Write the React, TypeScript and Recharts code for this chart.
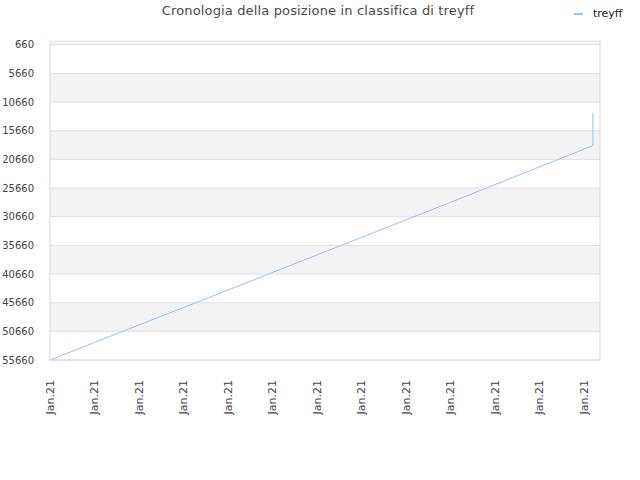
import React from 'react'
import { LineChart, Line, XAxis, YAxis, CartesianGrid, ReferenceLine } from 'recharts'

// day index on the x axis (all fall in Jan.21) and rank
const days = [0, 3, 6, 9, 12.2, 12.2, 12.22]
const ranks = [55660, 46500, 37330, 28150, 18250, 12600, 12450]
const yTicks = [660, 5660, 10660, 15660, 20660, 25660, 30660, 35660, 40660, 45660, 50660, 55660]
const xTicks = [0, 1, 2, 3, 4, 5, 6, 7, 8, 9, 10, 11, 12]
const X_MAX = 12.36
const tickLabel = 'Jan.21'

const LINE_COLOR = '#92c5f2'
const FONT = '"DejaVu Sans", sans-serif'

const data = days.map((d, i) => ({ day: d, rank: ranks[i] }))

const RotatedTick = (props: any) => {
  const { x, y } = props
  return (
    <text
      x={x + 4}
      y={y + 12}
      transform={`rotate(-90, ${x + 4}, ${y + 12})`}
      textAnchor="end"
      fontSize={11}
      fill="#444"
      fontFamily={FONT}
    >
      {tickLabel}
    </text>
  )
}

export default function App() {
  return (
    <div style={{ position: 'absolute', left: 0, top: 0, width: 640, height: 480, background: '#fff', fontFamily: FONT }}>
      <div style={{ position: 'absolute', top: 3, left: 0, width: 636, textAlign: 'center', fontSize: 13, color: '#4a4a4a', letterSpacing: 0.15 }}>
        Cronologia della posizione in classifica di treyff
      </div>
      <div style={{ position: 'absolute', top: 7, left: 574, display: 'flex', alignItems: 'center', fontSize: 11, color: '#222' }}>
        <span style={{ display: 'inline-block', width: 9, height: 2, background: LINE_COLOR, marginRight: 10 }} />
        treyff
      </div>
      <LineChart width={640} height={480} data={data} margin={{ top: 41, right: 40, bottom: 0, left: 0 }}>
        <CartesianGrid
          vertical={false}
          stroke="#e2e2e2"
          horizontalFill={['#f3f3f3', '#ffffff']}
          fillOpacity={1}
        />
        <XAxis
          dataKey="day"
          type="number"
          domain={[0, X_MAX]}
          ticks={xTicks}
          interval={0}
          height={120}
          tickLine={false}
          axisLine={{ stroke: '#d8d8d8' }}
          tick={<RotatedTick />}
        />
        <XAxis xAxisId="top" orientation="top" dataKey="day" type="number" domain={[0, X_MAX]} height={0} tick={false} tickLine={false} axisLine={{ stroke: '#d8d8d8' }} />
        <YAxis
          dataKey="rank"
          type="number"
          reversed
          domain={[0, 55660]}
          ticks={yTicks}
          interval={0}
          width={50}
          tickLine={false}
          axisLine={{ stroke: '#d8d8d8' }}
          tick={{ fontSize: 10, fill: '#444', fontFamily: FONT }}
          tickMargin={10}
        />
        <ReferenceLine x={X_MAX} stroke="#d8d8d8" />
        <Line
          type="linear"
          dataKey="rank"
          stroke={LINE_COLOR}
          strokeWidth={1}
          dot={false}
          isAnimationActive={false}
        />
      </LineChart>
    </div>
  )
}
